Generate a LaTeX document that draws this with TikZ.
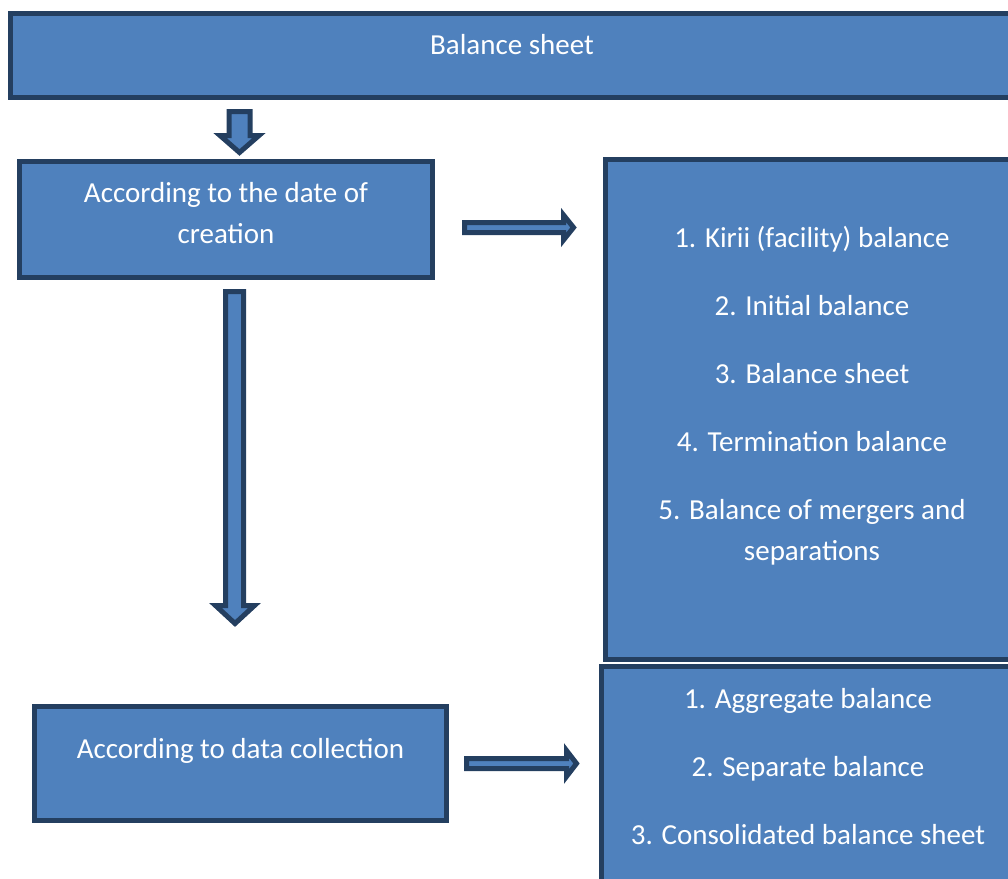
\documentclass[tikz,border=0pt]{standalone}
\usepackage{fontspec}
\setmainfont{Carlito}
\definecolor{boxfill}{HTML}{4F81BD}
\definecolor{boxline}{HTML}{243F60}
\begin{document}
\begin{tikzpicture}[x=1pt,y=-1pt,
  panel/.style={draw=boxline,fill=boxfill,line width=5pt,line join=miter},
  blockarrow/.style={draw=boxline,fill=boxfill,line width=5pt,line join=miter,miter limit=10},
  label/.style={text=white,font=\fontsize{29}{41}\selectfont,anchor=base,inner sep=0pt}]
\useasboundingbox (0,0) rectangle (1008,878);
\begin{scope}
\clip (0,0) rectangle (1008,878);

% boxes
\draw[panel] (10.5,13.5) rectangle (1014,97.5);
\draw[panel] (19.5,161.5) rectangle (432.5,277.5);
\draw[panel] (605.5,159.5) rectangle (1018,659.5);
\draw[panel] (34.5,706.5) rectangle (446.5,820.5);
\draw[panel] (601.5,666.5) rectangle (1015,895);

% block arrows
\draw[blockarrow] (229,111.5) -- (250,111.5) -- (250,135.5) -- (259,135.5)
  -- (239.5,152.5) -- (220,135.5) -- (229,135.5) -- cycle;
\draw[blockarrow] (225.5,291.5) -- (243.5,291.5) -- (243.5,605.5) -- (254.5,605.5)
  -- (235,623.5) -- (215.5,605.5) -- (225.5,605.5) -- cycle;
\draw[blockarrow] (464.5,222.5) -- (563.5,222.5) -- (563.5,215) -- (573.5,227.5)
  -- (563.5,240) -- (563.5,232.5) -- (464.5,232.5) -- cycle;
\draw[blockarrow] (466.5,758.5) -- (566.5,758.5) -- (566.5,750.5) -- (576.5,763.5)
  -- (566.5,776.5) -- (566.5,768.5) -- (466.5,768.5) -- cycle;

% labels
\node[label] (title) at (512,54) {Balance sheet};
\node[label] (date1) at (226,202) {According to the date of};
\node[label] (date2) at (226,243) {creation};
\node[label] (d1) at (812,247) {1. Kirii (facility) balance};
\node[label] (d2) at (812,315) {2. Initial balance};
\node[label] (d3) at (812,383) {3. Balance sheet};
\node[label] (d4) at (812,451) {4. Termination balance};
\node[label] (d5a) at (812,519) {5. Balance of mergers and};
\node[label] (d5b) at (812,560) {separations};
\node[label] (coll) at (240.5,758) {According to data collection};
\node[label] (c1) at (808,708) {1. Aggregate balance};
\node[label] (c2) at (808,776) {2. Separate balance};
\node[label] (c3) at (808,844) {3. Consolidated balance sheet};
\end{scope}
\end{tikzpicture}
\end{document}
